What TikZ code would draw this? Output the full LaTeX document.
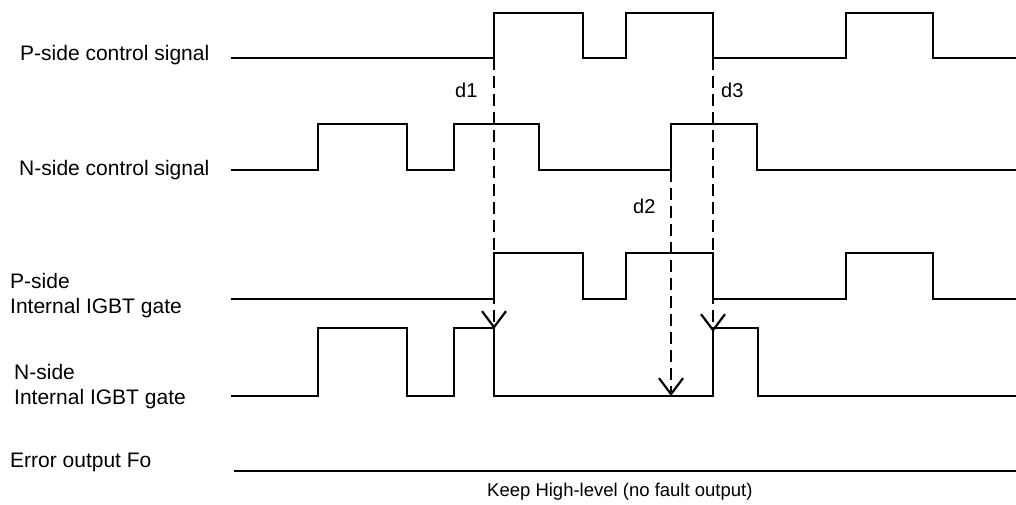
\documentclass[tikz,border=0pt]{standalone}
\usepackage{fontspec}
\setmainfont{Liberation Sans}
\usetikzlibrary{arrows.meta}

\tikzset{
  wave/.style={line width=2pt},
  fault/.style={line width=2.6pt},
  delay/.style={line width=2.6pt,dash pattern=on 12pt off 6pt,
    -{Straight Barb[length=16pt,width=24pt,line width=2.2pt]}},
  lbl/.style={anchor=base west,inner sep=0pt,font=\fontsize{21}{25}\selectfont},
  dlbl/.style={anchor=base west,inner sep=0pt,font=\fontsize{20}{24}\selectfont},
}

\begin{document}
\begin{tikzpicture}[x=1pt,y=-1pt]
    \useasboundingbox (0,0) rectangle (1016,504);
    % signal names
    \node[lbl] (pctl) at (20,60) {P-side control signal};
    \node[lbl] (nctl) at (19,175) {N-side control signal};
    \node[lbl] (pgate1) at (10,288) {P-side};
    \node[lbl] (pgate2) at (10,313) {Internal IGBT gate};
    \node[lbl] (ngate1) at (14,379) {N-side};
    \node[lbl] (ngate2) at (14,404) {Internal IGBT gate};
    \node[lbl] (fo) at (10,467) {Error output Fo};
    % waveforms
    \draw[wave] (231,58) \foreach \a/\b in {494/583,626/713,846/933}
      { -- (\a,58) -- (\a,13) -- (\b,13) -- (\b,58) } -- (1016,58);
    \draw[wave] (231,170) \foreach \a/\b in {318/407,454/539,671/757}
      { -- (\a,170) -- (\a,124) -- (\b,124) -- (\b,170) } -- (1016,170);
    \draw[wave] (231,299) \foreach \a/\b in {494/583,626/713,846/933}
      { -- (\a,299) -- (\a,253) -- (\b,253) -- (\b,299) } -- (1016,299);
    \draw[wave] (231,396) \foreach \a/\b in {318/407,454/494,713/758}
      { -- (\a,396) -- (\a,328) -- (\b,328) -- (\b,396) } -- (1016,396);
    \draw[fault] (234,471) -- (1016,471);
    \node[anchor=base west,inner sep=0pt,font=\fontsize{18.5}{22}\selectfont] (keep) at (487,496)
      {Keep High-level (no fault output)};
    % dead time arrows
    \coordinate (d1s) at (494,58);
    \coordinate (d1e) at (494,329);
    \coordinate (d2s) at (671,170);
    \coordinate (d2e) at (671,396);
    \coordinate (d3s) at (713,58);
    \coordinate (d3e) at (713,332);
    \draw[delay] (d1s) -- (d1e);
    \draw[delay] (d2s) -- (d2e);
    \draw[delay] (d3s) -- (d3e);
    \node[dlbl] (d1) at (455,97) {d1};
    \node[dlbl] (d2) at (633,213) {d2};
    \node[dlbl] (d3) at (721,97) {d3};
\end{tikzpicture}
\end{document}
